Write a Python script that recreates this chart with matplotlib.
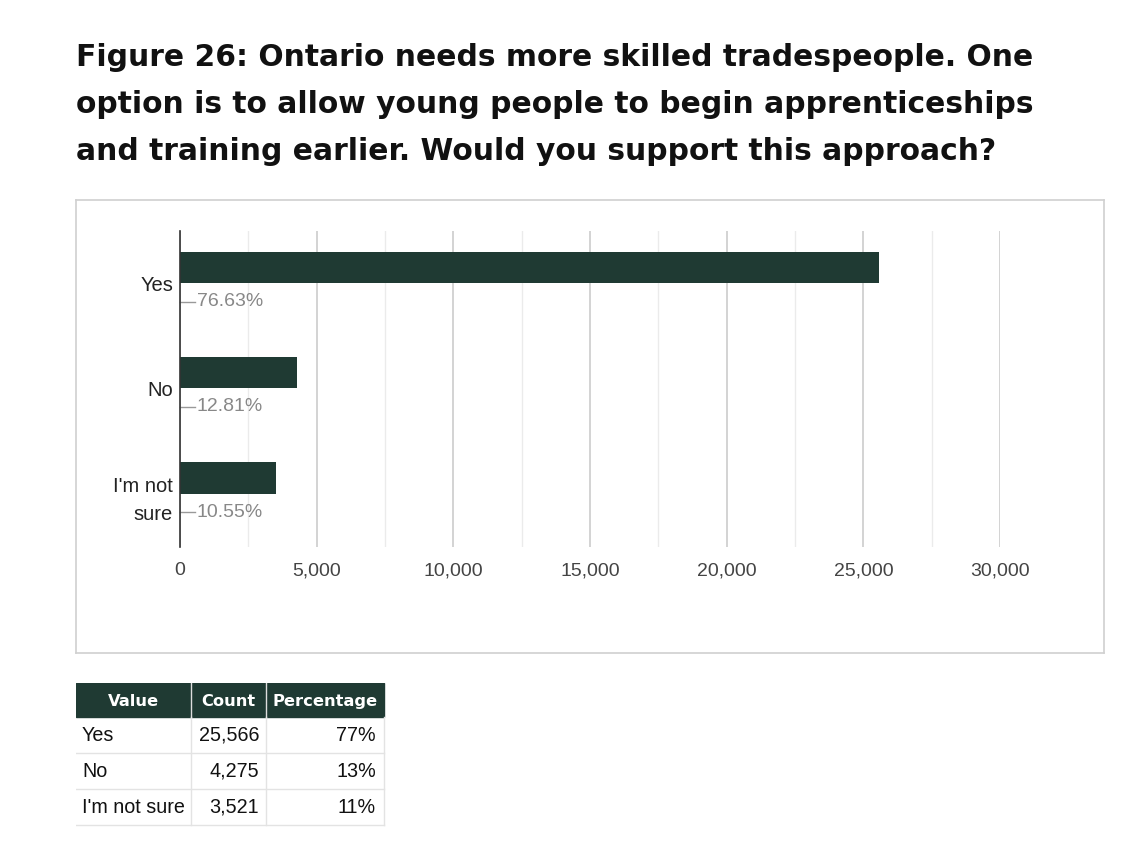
import matplotlib.pyplot as plt
from matplotlib.patches import Rectangle
from matplotlib.ticker import MultipleLocator, FuncFormatter

# survey answers
categories = ['Yes', 'No', "I'm not\nsure"]
table_labels = ['Yes', 'No', "I'm not sure"]
counts = [25566, 4275, 3521]
pct_labels = ['76.63%', '12.81%', '10.55%']
table_pct = ['77%', '13%', '11%']
x_max = 30000

title = ("Figure 26: Ontario needs more skilled tradespeople. One\n"
         "option is to allow young people to begin apprenticeships\n"
         "and training earlier. Would you support this approach?")

W, H = 1125, 846
bar_color = '#1f3a33'
fig = plt.figure(figsize=(W / 100, H / 100), dpi=100)


def px_axes(x0, y0, x1, y1):
    return fig.add_axes([x0 / W, 1 - y1 / H, (x1 - x0) / W, (y1 - y0) / H])


fig.text(76 / W, 1 - 43 / H, title, ha='left', va='top', fontsize=21.4,
         fontweight='bold', family='DejaVu Sans', linespacing=1.79, color='#111111')

# chart frame
frame = px_axes(76, 200, 1104, 653)
frame.set_xticks([])
frame.set_yticks([])
for s in frame.spines.values():
    s.set_color('#d0d0d0')
    s.set_linewidth(1.2)
frame.set_zorder(0)

ax = px_axes(180, 231, 1000, 547)
ax.set_zorder(1)
ax.patch.set_alpha(0)
ypos = list(range(len(categories)))
ax.barh([y - 0.155 for y in ypos], counts, height=0.295, color=bar_color, zorder=3)
ax.set_xlim(0, x_max)
ax.set_ylim(len(categories) - 0.5, -0.5)
ax.xaxis.set_major_locator(MultipleLocator(5000))
ax.xaxis.set_minor_locator(MultipleLocator(2500))
ax.xaxis.set_major_formatter(FuncFormatter(lambda v, p: f'{int(v):,}'))
ax.grid(axis='x', which='major', color='#cccccc', linewidth=1.2, zorder=0)
ax.grid(axis='x', which='minor', color='#ebebeb', linewidth=1.0, zorder=0)
ax.tick_params(axis='x', which='both', length=0, pad=11, labelsize=14, labelcolor='#444444')
ax.tick_params(axis='y', length=0, pad=5, labelsize=14.5, labelcolor='#222222')
ax.set_yticks(ypos)
ax.set_yticklabels(categories, linespacing=1.58)
for lbl in ax.get_xticklabels():
    lbl.set_family('Liberation Sans')
for lbl in ax.get_yticklabels():
    lbl.set_family('Liberation Sans')
for side in ['top', 'right', 'bottom']:
    ax.spines[side].set_visible(False)
ax.spines['left'].set_color('#333333')
ax.spines['left'].set_linewidth(1.2)
ax.spines['left'].set_zorder(4)

# percentage annotations with stems
for y, p in zip(ypos, pct_labels):
    ax.plot([0, 560], [y + 0.17, y + 0.17], color='#999999', linewidth=1, zorder=4,
            clip_on=False)
    ax.text(620, y + 0.17, p, va='center', ha='left', fontsize=14,
            color='#888888', family='Liberation Sans')

# summary table
tab = px_axes(76, 683, 386, 827)
tab.set_xlim(0, 310)
tab.set_ylim(144, 0)
tab.axis('off')
col_edges = [0, 115, 190, 308]
header = ['Value', 'Count', 'Percentage']
head_h, row_h = 34, 36
tab.add_patch(Rectangle((0, 0), 308, head_h, color=bar_color))
for i, h in enumerate(header):
    xc = (col_edges[i] + col_edges[i + 1]) / 2
    tab.text(xc, head_h / 2 + 1, h, ha='center', va='center', color='white',
             fontsize=11.7, fontweight='bold', family='DejaVu Sans')
for e in col_edges[1:-1]:
    tab.plot([e, e], [0, head_h], color='#dddddd', linewidth=1)
for r, (lab, c, p) in enumerate(zip(table_labels, counts, table_pct)):
    y0 = head_h + r * row_h
    yc = y0 + row_h / 2
    tab.text(6, yc, lab, ha='left', va='center', fontsize=14.2, color='#111111',
             family='Liberation Sans')
    tab.text(col_edges[2] - 7, yc, f'{c:,}', ha='right', va='center', fontsize=14.2,
             color='#111111', family='Liberation Sans')
    tab.text(col_edges[3] - 8, yc, p, ha='right', va='center', fontsize=14.2,
             color='#111111', family='Liberation Sans')
    tab.plot([0, 308], [y0 + row_h, y0 + row_h], color='#e3e3e3', linewidth=1)
for e in col_edges[1:]:
    tab.plot([e, e], [head_h, head_h + 3 * row_h], color='#e3e3e3', linewidth=1)

fig.savefig('out.png', dpi=100, facecolor='white')
